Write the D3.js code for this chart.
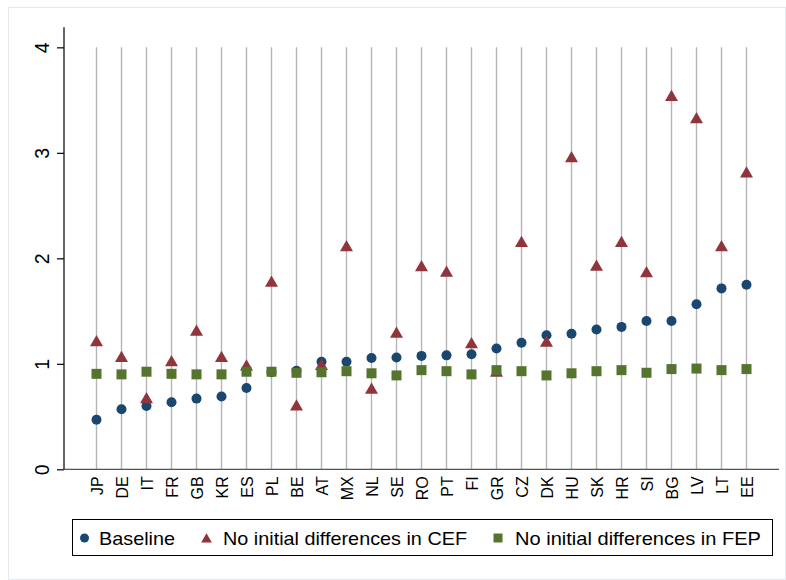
<!DOCTYPE html>
<html>
<head>
<meta charset="utf-8">
<script src="https://cdn.jsdelivr.net/npm/d3@7"></script>
<style>
  body { margin: 0; background: #fff; }
  text { font-family: "Liberation Sans", Arial, Helvetica, sans-serif; }
</style>
</head>
<body>
<div id="chart"></div>
<script>
// countries in plotted order
var countries = ["JP","DE","IT","FR","GB","KR","ES","PL","BE","AT","MX","NL","SE","RO","PT","FI","GR","CZ","DK","HU","SK","HR","SI","BG","LV","LT","EE"];
var baseline = [0.47,0.57,0.60,0.635,0.67,0.69,0.77,0.92,0.935,1.02,1.02,1.055,1.06,1.075,1.08,1.09,1.145,1.20,1.27,1.285,1.325,1.35,1.405,1.405,1.565,1.715,1.75];
var noCEF = [1.22,1.07,0.68,1.03,1.32,1.07,0.99,1.785,0.61,0.995,2.12,0.77,1.30,1.93,1.88,1.20,0.93,2.16,1.215,2.965,1.935,2.16,1.875,3.545,3.335,2.12,2.82];
var noFEP = [0.905,0.90,0.925,0.905,0.90,0.90,0.925,0.925,0.915,0.92,0.93,0.91,0.89,0.94,0.93,0.90,0.94,0.93,0.89,0.91,0.93,0.94,0.915,0.95,0.955,0.94,0.95];
var yTicks = [0,1,2,3,4];
var legendLabels = ["Baseline","No initial differences in CEF","No initial differences in FEP"];

var colBlue = "#1a476f", colRed = "#90353b", colGreen = "#55752f";

var svg = d3.select("#chart")
    .append("svg")
    .attr("width", 786)
    .attr("height", 580);

// outer graph region
svg.append("rect")
    .attr("x", 8.5).attr("y", 7.5)
    .attr("width", 777).attr("height", 572)
    .attr("fill", "#fff")
    .attr("stroke", "#e3ebee");

var x = d3.scalePoint()
    .domain(countries)
    .range([64, 779])
    .padding(1.3);

var y = d3.scaleLinear()
    .domain([0, 4.19])
    .range([469.3, 27.3]);

// vertical grid lines
svg.append("g")
    .selectAll("line")
    .data(countries)
    .enter()
    .append("line")
    .attr("x1", function (d) { return x(d) })
    .attr("x2", function (d) { return x(d) })
    .attr("y1", y(4))
    .attr("y2", y(0))
    .attr("stroke", "#b5b5b5")
    .attr("stroke-width", 1.4);

// y axis
var yAxis = svg.append("g")
    .attr("transform", "translate(64,0)")
    .call(d3.axisLeft(y).tickValues(yTicks).tickSize(7).tickFormat(d3.format("d")));
yAxis.select(".domain").attr("stroke", "#000").attr("stroke-width", 1.2)
    .attr("d", "M0," + y(4.19) + "V" + y(0));
yAxis.selectAll(".tick line").attr("stroke", "#000").attr("stroke-width", 1.2);
yAxis.selectAll(".tick text")
    .attr("x", null).attr("dy", null)
    .attr("text-anchor", "middle")
    .attr("transform", "translate(-15.5,0) rotate(-90)")
    .style("font-size", "19.5px")
    .attr("fill", "#000");

// x axis
var xAxis = svg.append("g")
    .attr("transform", "translate(0," + y(0) + ")")
    .call(d3.axisBottom(x).tickSize(0));
xAxis.select(".domain").attr("stroke", "#555").attr("stroke-width", 1.2)
    .attr("d", "M64,0H779");
xAxis.selectAll(".tick text")
    .attr("y", null).attr("dy", "0.35em")
    .attr("text-anchor", "end")
    .attr("transform", "translate(0,7) rotate(-90)")
    .style("font-size", "16px")
    .attr("fill", "#000");

var pts = countries.map(function (c, i) {
    return { c: c, b: baseline[i], cef: noCEF[i], fep: noFEP[i] };
});

// baseline circles
svg.append("g")
    .selectAll("circle")
    .data(pts)
    .enter()
    .append("circle")
    .attr("cx", function (d) { return x(d.c) })
    .attr("cy", function (d) { return y(d.b) })
    .attr("r", 5)
    .attr("fill", colBlue);

// CEF triangles
var tri = d3.symbol().type(d3.symbolTriangle).size(73);
svg.append("g")
    .selectAll("path")
    .data(pts)
    .enter()
    .append("path")
    .attr("d", tri)
    .attr("transform", function (d) { return "translate(" + x(d.c) + "," + (y(d.cef) + 1.9) + ")" })
    .attr("fill", colRed);

// FEP squares
svg.append("g")
    .selectAll("rect")
    .data(pts)
    .enter()
    .append("rect")
    .attr("x", function (d) { return x(d.c) - 5 })
    .attr("y", function (d) { return y(d.fep) - 5 })
    .attr("width", 10)
    .attr("height", 10)
    .attr("fill", colGreen);

// legend
var lg = svg.append("g");
lg.append("rect")
    .attr("x", 72.5).attr("y", 519.5)
    .attr("width", 700).attr("height", 36)
    .attr("fill", "#fff")
    .attr("stroke", "#000")
    .attr("stroke-width", 1);

var ly = 538;
lg.append("circle").attr("cx", 84.5).attr("cy", ly).attr("r", 4.5).attr("fill", colBlue);
lg.append("path")
    .attr("d", d3.symbol().type(d3.symbolTriangle).size(50))
    .attr("transform", "translate(206.5," + (ly + 1.5) + ")")
    .attr("fill", colRed);
lg.append("rect").attr("x", 493.5).attr("y", ly - 4.5).attr("width", 9).attr("height", 9).attr("fill", colGreen);

var lx = [99, 223, 515];
var lw = [76, 244, 246];
lg.selectAll("text.lab")
    .data(legendLabels)
    .enter()
    .append("text")
    .attr("class", "lab")
    .attr("x", function (d, i) { return lx[i] })
    .attr("y", ly)
    .attr("dy", "0.35em")
    .attr("textLength", function (d, i) { return lw[i] })
    .attr("lengthAdjust", "spacingAndGlyphs")
    .style("font-size", "19px")
    .attr("fill", "#000")
    .text(function (d) { return d });
</script>
</body>
</html>
